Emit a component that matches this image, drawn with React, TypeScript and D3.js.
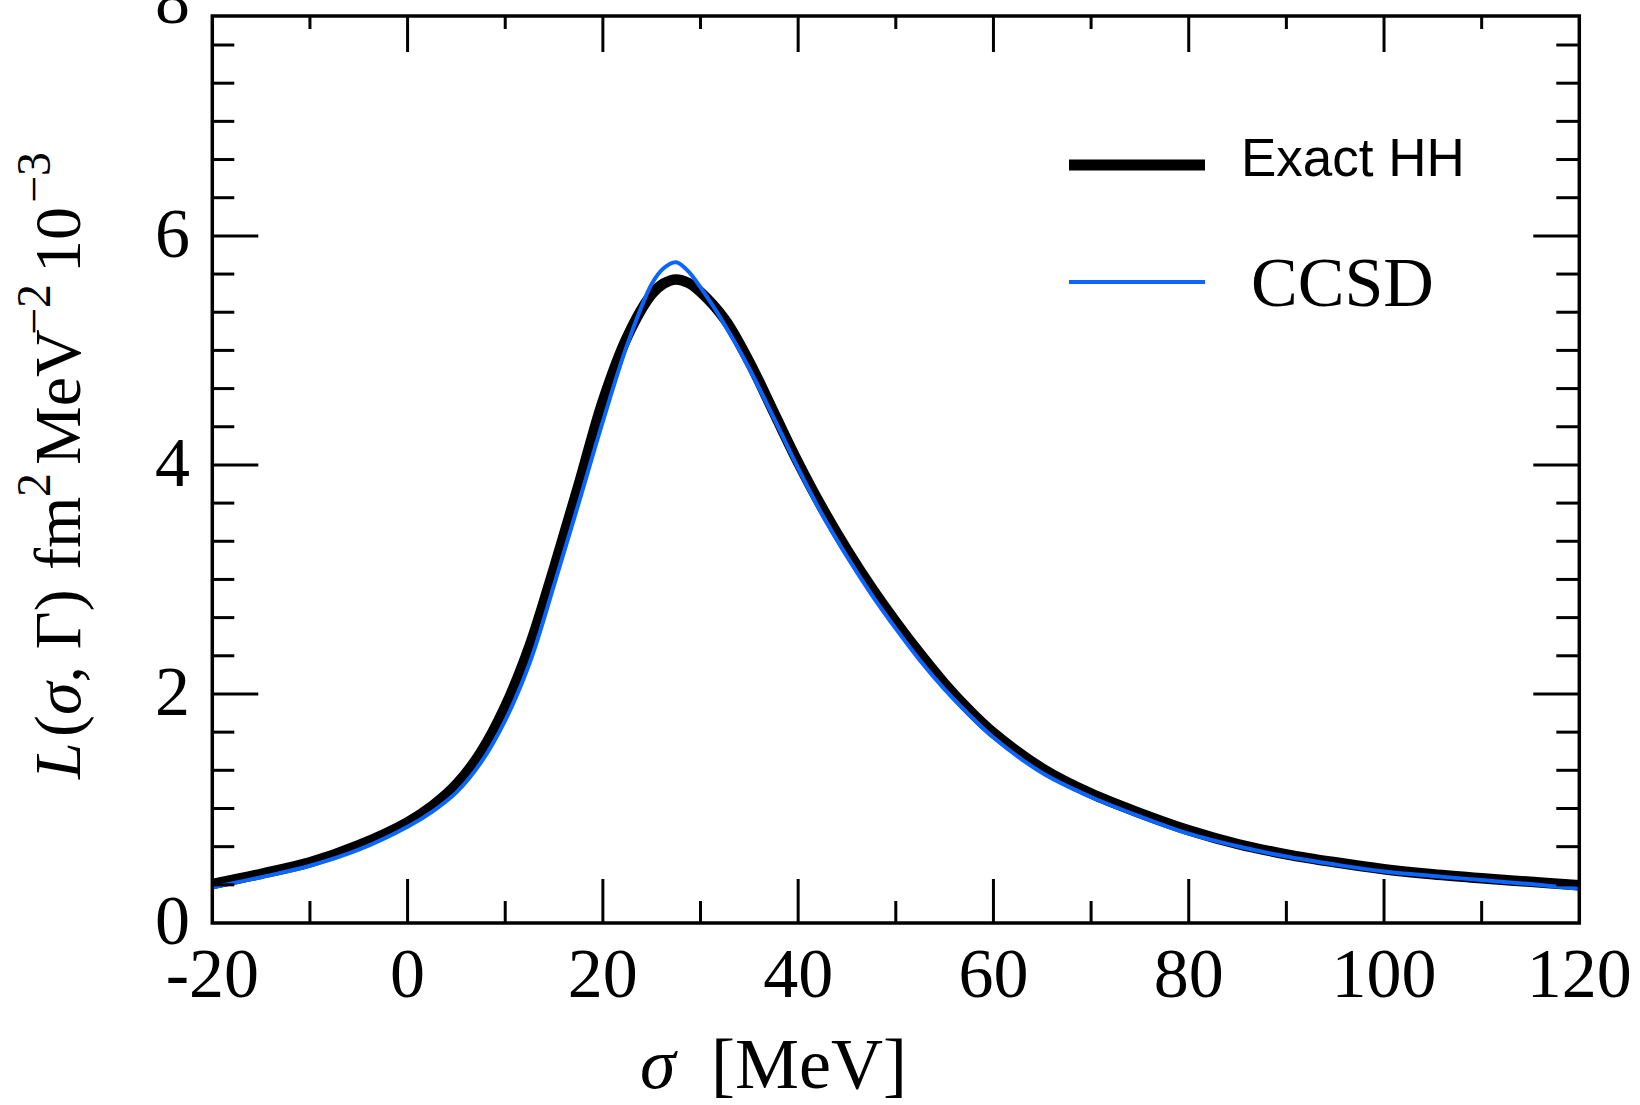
import React from 'react';
import * as d3 from 'd3';

// sigma [MeV]
const sigma = [-20, -15, -10, -5, 0, 2.5, 5, 7.5, 10, 12.5, 15, 17.5, 20, 22.5, 25, 26.25, 27.5, 28.75, 30, 32.5, 35, 37.5, 40, 42.5, 45, 47.5, 50, 52.5, 55, 57.5, 60, 65, 70, 75, 80, 85, 90, 95, 100, 105, 110, 115, 120];
// L(sigma, Gamma) [fm^2 MeV^-2 10^-3]
const exactHH = [0.34, 0.43, 0.53, 0.68, 0.88, 1.02, 1.21, 1.49, 1.89, 2.42, 3.10, 3.82, 4.56, 5.12, 5.49, 5.585, 5.62, 5.59, 5.51, 5.27, 4.90, 4.46, 4.02, 3.62, 3.26, 2.93, 2.63, 2.35, 2.09, 1.86, 1.66, 1.35, 1.13, 0.96, 0.81, 0.69, 0.60, 0.53, 0.47, 0.425, 0.39, 0.36, 0.33];
const ccsd = [0.31, 0.40, 0.50, 0.64, 0.84, 0.97, 1.14, 1.40, 1.77, 2.27, 2.95, 3.66, 4.38, 5.05, 5.58, 5.72, 5.77, 5.69, 5.55, 5.22, 4.84, 4.41, 3.97, 3.56, 3.20, 2.87, 2.57, 2.29, 2.04, 1.82, 1.62, 1.31, 1.10, 0.93, 0.78, 0.67, 0.58, 0.51, 0.45, 0.41, 0.375, 0.34, 0.30];

const xMajorTicks = [-20, 0, 20, 40, 60, 80, 100, 120];
const xMinorTicks = [-10, 10, 30, 50, 70, 90, 110];
const yLabelTicks = [0, 2, 4, 6, 8];
const yMajorTicks = [2, 4, 6];
const yMinorStep = 1 / 3;

const seriesNames = ['Exact HH', 'CCSD'];

const W = 1640;
const H = 1105;
const L = 212.3;
const R = 1579.3;
const T = 16;
const B = 923;

const BLUE = '#0a66ff';
const SERIF = '"Liberation Serif", "Times New Roman", serif';
const SANS = '"Liberation Sans", Arial, sans-serif';

export default function App() {
  const x = d3.scaleLinear().domain([-20, 120]).range([L, R]);
  const y = d3.scaleLinear().domain([0, 7.92]).range([B, T]);

  const line = d3
    .line<[number, number]>()
    .x((d) => x(d[0]))
    .y((d) => y(d[1]))
    .curve(d3.curveCatmullRom.alpha(0.5));

  const blackPath = line(sigma.map((s, i) => [s, exactHH[i]] as [number, number])) || '';
  const bluePath = line(sigma.map((s, i) => [s, ccsd[i]] as [number, number])) || '';

  const yMinor = d3
    .range(1, 24)
    .map((k) => k * yMinorStep)
    .filter((v) => Math.abs(v / 2 - Math.round(v / 2)) > 1e-6);

  const tickW = 3;

  return (
    <svg
      width={W}
      height={H}
      style={{ position: 'absolute', left: 0, top: 0, background: '#fff' }}
      xmlns="http://www.w3.org/2000/svg"
    >
      <rect x={0} y={0} width={W} height={H} fill="#fff" />
      <defs>
        <clipPath id="plotClip">
          <rect x={L} y={T} width={R - L} height={B - T} />
        </clipPath>
      </defs>

      {/* curves */}
      <g clipPath="url(#plotClip)">
        <path d={blackPath} fill="none" stroke="#000" strokeWidth={10.5} strokeLinejoin="round" />
        <path d={bluePath} fill="none" stroke={BLUE} strokeWidth={4} strokeLinejoin="round" />
      </g>

      {/* ticks */}
      <g stroke="#000" strokeWidth={tickW}>
        {xMajorTicks.slice(1, -1).map((v) => (
          <g key={'xM' + v}>
            <line x1={x(v)} x2={x(v)} y1={B} y2={B - 44} />
            <line x1={x(v)} x2={x(v)} y1={T} y2={T + 36} />
          </g>
        ))}
        {xMinorTicks.map((v) => (
          <g key={'xm' + v}>
            <line x1={x(v)} x2={x(v)} y1={B} y2={B - 22} />
            <line x1={x(v)} x2={x(v)} y1={T} y2={T + 13} />
          </g>
        ))}
        {yMajorTicks.map((v) => (
          <g key={'yM' + v}>
            <line x1={L} x2={L + 46} y1={y(v)} y2={y(v)} />
            <line x1={R} x2={R - 46} y1={y(v)} y2={y(v)} />
          </g>
        ))}
        {yMinor.map((v) => (
          <g key={'ym' + v}>
            <line x1={L} x2={L + 22} y1={y(v)} y2={y(v)} />
            <line x1={R} x2={R - 23} y1={y(v)} y2={y(v)} />
          </g>
        ))}
      </g>

      {/* frame */}
      <rect x={L} y={T} width={R - L} height={B - T} fill="none" stroke="#000" strokeWidth={3.5} />

      {/* tick labels */}
      <g fontFamily={SERIF} fontSize={70} fill="#000">
        {xMajorTicks.map((v) => (
          <text key={'xl' + v} x={x(v)} y={997} textAnchor="middle">
            {v < 0 ? '-' + Math.abs(v) : String(v)}
          </text>
        ))}
        {yLabelTicks.map((v) => (
          <text key={'yl' + v} x={190} y={y(v) + (v === 8 ? 16 : 21)} textAnchor="end">
            {String(v)}
          </text>
        ))}
      </g>

      {/* x axis title */}
      <text y={1088} fontFamily={SERIF} fontSize={72} fill="#000">
        <tspan x={640} fontStyle="italic">σ</tspan>
        <tspan x={711}>[MeV]</tspan>
      </text>

      {/* y axis title */}
      <text transform="translate(80,779) rotate(-90)" fontFamily={SERIF} fontSize={66} fill="#000">
        <tspan x={0} fontStyle="italic">L</tspan>
        <tspan x={42}>(</tspan>
        <tspan fontStyle="italic">σ</tspan>
        <tspan>, Γ)</tspan>
        <tspan x={209}>fm</tspan>
        <tspan x={282} dy={-30} fontSize={48}>2</tspan>
        <tspan x={314} dy={30}>MeV</tspan>
        <tspan x={444} dy={-30} fontSize={48}>−2</tspan>
        <tspan x={506} dy={30}>10</tspan>
        <tspan x={576} dy={-30} fontSize={48}>−3</tspan>
      </text>

      {/* legend */}
      <line x1={1069} x2={1205} y1={165} y2={165} stroke="#000" strokeWidth={11} />
      <text x={1241} y={176} fontFamily={SANS} fontSize={53} fill="#000">
        {seriesNames[0]}
      </text>
      <line x1={1069} x2={1205} y1={282} y2={282} stroke={BLUE} strokeWidth={4} />
      <text x={1251} y={306} fontFamily={SERIF} fontSize={70} fill="#000">
        {seriesNames[1]}
      </text>
    </svg>
  );
}
